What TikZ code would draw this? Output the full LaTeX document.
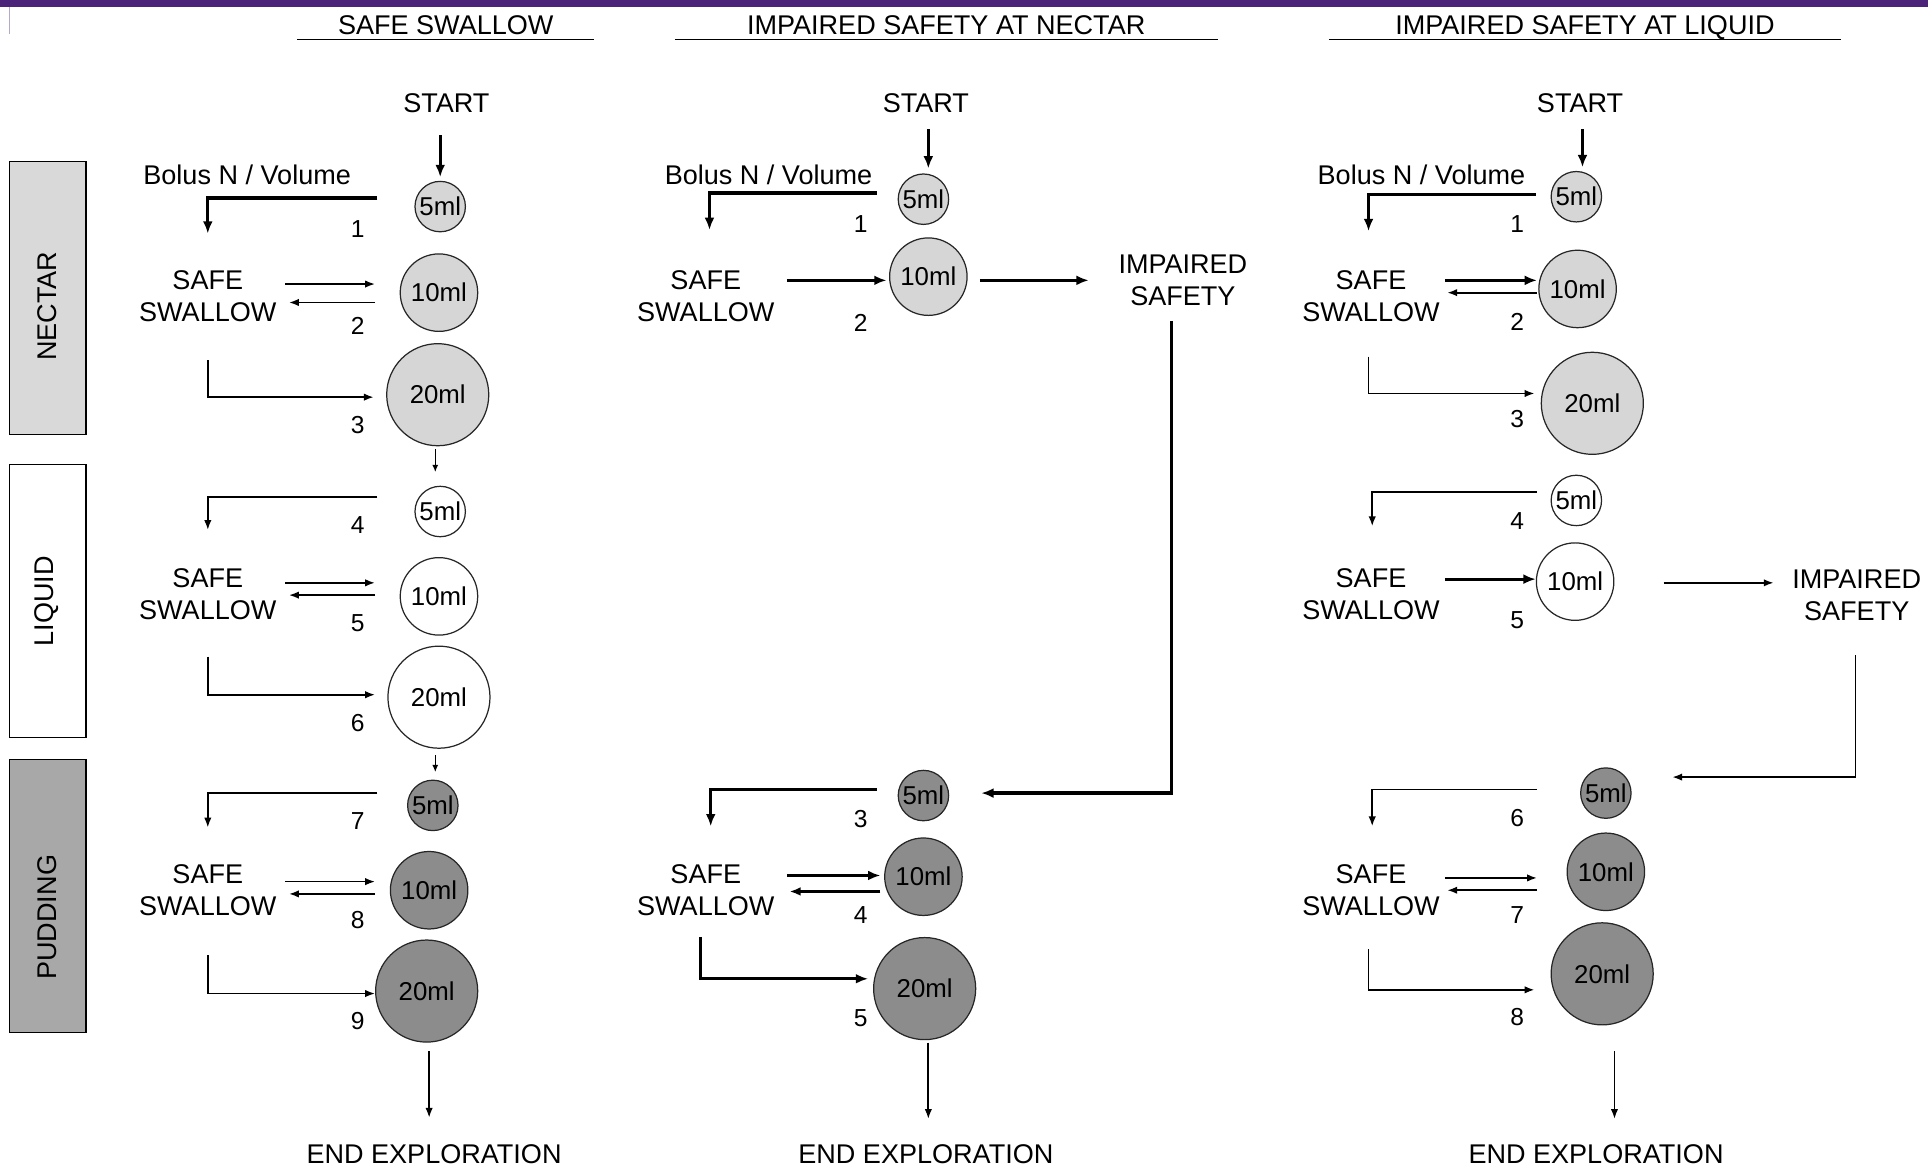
\documentclass[tikz,border=0pt]{standalone}
\usepackage{fontspec}
\setmainfont{Liberation Sans}
\usetikzlibrary{arrows.meta,calc}
\definecolor{nectargray}{gray}{0.84}
\definecolor{puddinggray}{gray}{0.55}
\definecolor{nectarband}{gray}{0.85}
\definecolor{puddingband}{gray}{0.66}
\definecolor{topbar}{HTML}{4B2479}
\begin{document}
\begin{tikzpicture}[x=1pt, y=-1pt,
vol/.style={circle, draw=black!85, line width=1pt, inner sep=0pt, font=\fontsize{21}{21}\selectfont},
ml5/.style={vol, minimum size=41pt},
ml10/.style={vol, minimum size=63pt},
ml20/.style={vol, minimum size=83pt},
nec/.style={fill=nectargray},
liq/.style={fill=white},
pud/.style={fill=puddinggray},
lbl/.style={align=center, inner sep=0pt, font=\fontsize{22}{26}\selectfont},
hdr/.style={lbl, anchor=base, text depth=0pt, inner ysep=4pt},
num/.style={inner sep=0pt, font=\fontsize{20}{20}\selectfont},
band/.style={draw=black, line width=1pt, minimum width=62pt, minimum height=222pt, inner sep=0pt},
thk/.style={line width=2.6pt, -{Latex[length=10pt,width=8pt]}},
med/.style={line width=1.9pt, -{Latex[length=9pt,width=7pt]}},
thn/.style={line width=1.4pt, -{Latex[length=8pt,width=6pt]}},
tiny/.style={line width=1.2pt, -{Latex[length=6pt,width=5pt]}}]
\useasboundingbox (0,0) rectangle (1568,950);
\fill[topbar] (0,0) rectangle (1568,6);
\draw[topbar!40, line width=1pt] (8,6) -- (8,28);

% consistency bands
\node[band, fill=nectarband] (bn) at (39,242.5) {};
\node[band, fill=white] (bl) at (39,489) {};
\node[band, fill=puddingband] (bp) at (39,728.5) {};
\node[lbl, rotate=90] (tn) at (38,249) {NECTAR};
\node[lbl, rotate=90] (tl) at (38,489) {LIQUID};
\node[lbl, rotate=90] (tp) at (38,746) {PUDDING};

% safe swallow
\node[hdr, minimum width=241pt] (h1) at (362.5,28) {SAFE SWALLOW};
\draw[line width=1.2pt] (h1.south west) -- (h1.south east);
\node[lbl] (st1) at (363,84) {START};
\node[lbl, anchor=base] (bol1) at (201,150) {Bolus N / Volume};
\node[ml5, nec] (a5) at (358,168) {5ml};
\node[ml10, nec] (a10) at (357,238) {10ml};
\node[ml20, nec] (a20) at (356,321) {20ml};
\node[ml5, liq] (b5) at (358,416) {5ml};
\node[ml10, liq] (b10) at (357,485) {10ml};
\node[ml20, liq] (b20) at (357,567) {20ml};
\node[ml5, pud] (c5) at (352,655) {5ml};
\node[ml10, pud] (c10) at (349,724) {10ml};
\node[ml20, pud] (c20) at (347,806) {20ml};
\node[lbl] (ss1) at (169,241) {SAFE\\SWALLOW};
\node[lbl] (ss2) at (169,483) {SAFE\\SWALLOW};
\node[lbl] (ss3) at (169,724) {SAFE\\SWALLOW};
\node[lbl] (end1) at (353,939) {END EXPLORATION};
\foreach \n/\y in {1/186,2/265,3/346,4/427,5/507,6/588,7/668,8/748,9/830}
  \node[num] (na\n) at (291,\y) {\n};
\draw[thk] ($(a5 |- st1.south)+(0,18)$) -- ($(a5.north)+(0,-3)$);
\draw[thk] ($(a5.west)+(-30,-7)$) -| ($(ss1.north)+(0,-30)$);
\draw[thn] ($(a10.west -| ss1.east)+(7,-7)$) -- ($(a10.west)+(-20,-7)$);
\draw[thn] ($(a10.west)+(-20,8)$) -- ($(a10.west -| ss1.east)+(10,8)$);
\draw[thn] ($(ss1.south)+(0,31)$) |- ($(a20.west)+(-10,2)$);
\draw[tiny] ($(a20.south)+(-2,2)$) -- ($(b5.north)+(-4,-11)$);
\draw[thn] ($(b5.west)+(-30,-12)$) -| ($(ss2.north)+(0,-31)$);
\draw[thn] ($(b10.west -| ss2.east)+(7,-11)$) -- ($(b10.west)+(-20,-11)$);
\draw[thn] ($(b10.west)+(-20,-1)$) -- ($(b10.west -| ss2.east)+(10,-1)$);
\draw[thn] ($(ss2.south)+(0,30)$) |- ($(b20.west)+(-10,-2)$);
\draw[tiny] ($(b20.south)+(-3,5)$) -- ($(c5.north)+(2,-6)$);
\draw[thn] ($(c5.west)+(-24,-10)$) -| ($(ss3.north)+(0,-30)$);
\draw[thn] ($(c10.west -| ss3.east)+(7,-7)$) -- ($(c10.west)+(-12,-7)$);
\draw[thn] ($(c10.west)+(-12,3)$) -- ($(c10.west -| ss3.east)+(10,3)$);
\draw[thn] ($(ss3.south)+(0,32)$) |- ($(c20.west)+(0,2)$);
\draw[thn] ($(c20.south)+(2,7)$) -- ($(c20.south |- end1.north)+(2,-22)$);

% impaired safety at nectar
\node[hdr, minimum width=441pt] (h2) at (769.5,28) {IMPAIRED SAFETY AT NECTAR};
\draw[line width=1.2pt] (h2.south west) -- (h2.south east);
\node[lbl] (st2) at (753,84) {START};
\node[lbl, anchor=base] (bol2) at (625,150) {Bolus N / Volume};
\node[ml5, nec] (d5) at (751,162) {5ml};
\node[ml10, nec] (d10) at (755,225) {10ml};
\node[lbl] (ss4) at (574,241) {SAFE\\SWALLOW};
\node[lbl] (imp1) at (962,228) {IMPAIRED\\SAFETY};
\node[ml5, pud] (e5) at (751,647) {5ml};
\node[ml10, pud] (e10) at (751,713) {10ml};
\node[ml20, pud] (e20) at (752,804) {20ml};
\node[lbl] (ss5) at (574,724) {SAFE\\SWALLOW};
\node[lbl] (end2) at (753,939) {END EXPLORATION};
\foreach \n/\y in {1/182,2/263,3/666,4/744,5/828}
  \node[num] (nb\n) at (700,\y) {\n};
\draw[thk] ($(d5 |- st2.south)+(4,13)$) -- ($(d5.north)+(4,-4)$);
\draw[thk] ($(d5.west)+(-17,-5)$) -| ($(ss4.north)+(3,-33)$);
\draw[thk] ($(d10.west -| ss4.east)+(10,3)$) -- ($(d10.west)+(-2,3)$);
\draw[thk] ($(d10.east)+(10,3)$) -- ($(d10.east -| imp1.west)+(-24,3)$);
\draw[thk] ($(imp1.south)+(-9,12)$) |- ($(e5.east)+(26,-2)$);
\draw[thk] ($(e5.west)+(-17,-5)$) -| ($(ss5.north)+(4,-31)$);
\draw[thk] ($(e10.west -| ss5.east)+(10,-1)$) -- ($(e10.west)+(-3,-1)$);
\draw[med] ($(e10.west)+(-3,12)$) -- ($(e10.west -| ss5.east)+(12,12)$);
\draw[thk] ($(ss5.south)+(-4,17)$) |- ($(e20.west)+(-4,-8)$);
\draw[thn] ($(e20.south)+(3,2)$) -- ($(e20.south |- end2.north)+(3,-21)$);

% impaired safety at liquid
\node[hdr, minimum width=416pt] (h3) at (1289,28) {IMPAIRED SAFETY AT LIQUID};
\draw[line width=1.2pt] (h3.south west) -- (h3.south east);
\node[lbl] (st3) at (1285,84) {START};
\node[lbl, anchor=base] (bol3) at (1156,150) {Bolus N / Volume};
\node[ml5, nec] (f5) at (1282,160) {5ml};
\node[ml10, nec] (f10) at (1283,235) {10ml};
\node[ml20, nec] (f20) at (1295,328) {20ml};
\node[ml5, liq] (g5) at (1282,407) {5ml};
\node[ml10, liq] (g10) at (1281,473) {10ml};
\node[ml5, pud] (k5) at (1306,645) {5ml};
\node[ml10, pud] (k10) at (1306,709) {10ml};
\node[ml20, pud] (k20) at (1303,792) {20ml};
\node[lbl] (ss6) at (1115,241) {SAFE\\SWALLOW};
\node[lbl] (ss7) at (1115,483) {SAFE\\SWALLOW};
\node[lbl] (ss8) at (1115,724) {SAFE\\SWALLOW};
\node[lbl] (imp2) at (1510,484) {IMPAIRED\\SAFETY};
\node[lbl] (end3) at (1298,939) {END EXPLORATION};
\foreach \n/\y in {1/182,2/262,3/341,4/424,5/504,6/665,7/744,8/827}
  \node[num] (nc\n) at (1234,\y) {\n};
\draw[thk] ($(f5 |- st3.south)+(5,13)$) -- ($(f5.north)+(5,-3)$);
\draw[thk] ($(f5.west)+(-12,-2)$) -| ($(ss6.north)+(-2,-32)$);
\draw[thk] ($(f10.west -| ss6.east)+(4,-7)$) -- ($(f10.west)+(-1,-7)$);
\draw[thn] ($(f10.west)+(-1,3)$) -- ($(f10.west -| ss6.east)+(6,3)$);
\draw[thn] ($(ss6.south)+(-2,28)$) |- ($(f20.west)+(-5,-8)$);
\draw[thn] ($(g5.west)+(-11,-7)$) -| ($(ss7.north)+(1,-34)$);
\draw[thk] ($(g10.west -| ss7.east)+(4,-2)$) -- ($(g10.west)+(0,-2)$);
\draw[thn] ($(g10.east)+(40,1)$) -- ($(g10.east -| imp2.west)+(-15,1)$);
\draw[thn] ($(imp2.south)+(-1,28)$) |- ($(k5.east)+(33,-13)$);
\draw[thn] ($(k5.west)+(-35,-3)$) -| ($(ss8.north)+(1,-31)$);
\draw[thn] ($(k10.west -| ss8.east)+(4,5)$) -- ($(k10.west)+(-24,5)$);
\draw[thn] ($(k10.west)+(-24,15)$) -- ($(k10.west -| ss8.east)+(6,15)$);
\draw[thn] ($(ss8.south)+(-2,27)$) |- ($(k20.west)+(-13,13)$);
\draw[thn] ($(k20.south)+(10,21)$) -- ($(k20.south |- end3.north)+(10,-21)$);
\end{tikzpicture}
\end{document}
